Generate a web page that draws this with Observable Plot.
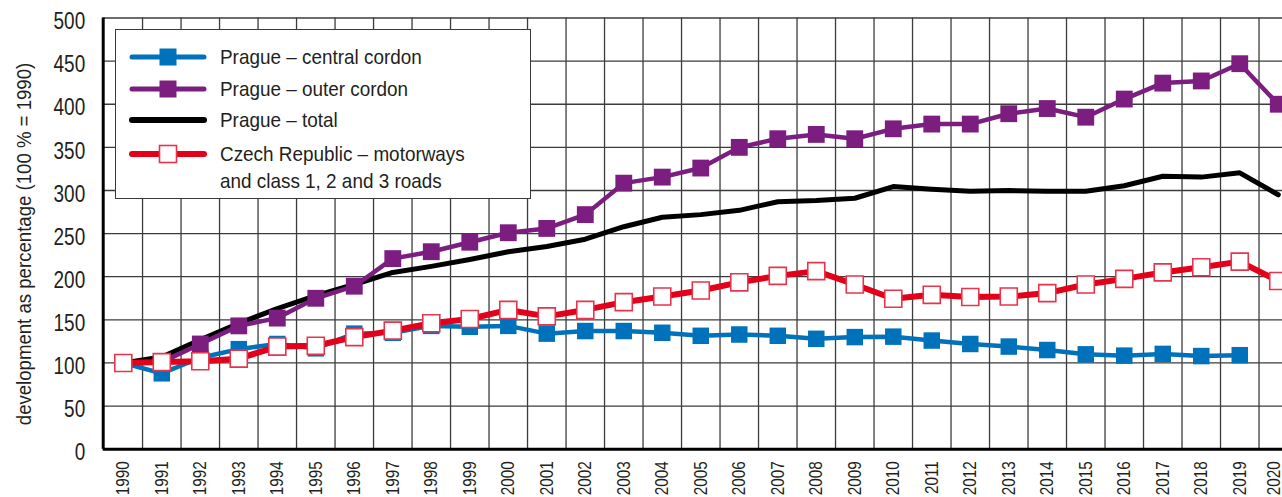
<!DOCTYPE html>
<html><head><meta charset="utf-8">
<script src="https://cdn.jsdelivr.net/npm/d3@7"></script>
<script src="https://cdn.jsdelivr.net/npm/@observablehq/plot@0.6"></script>
<style>
html,body{margin:0;padding:0;background:#fff;overflow:hidden;}
#wrap{position:relative;width:1282px;height:497px;}
.legend{position:absolute;left:115px;top:29px;width:416px;height:170px;border:1.5px solid #3a3a3a;background:#fff;box-sizing:border-box;font-family:"Liberation Sans","Arial",sans-serif;font-size:21px;color:#231f20;}
.row{position:absolute;left:0;height:26px;display:flex;align-items:center;white-space:nowrap;}
.row svg{margin-left:13px;margin-right:13px;flex:none;}
.row span{display:inline-block;transform:scaleX(0.9);transform-origin:left center;}
.ytitle{position:absolute;font-family:"Liberation Sans","Arial",sans-serif;font-size:20px;color:#231f20;white-space:nowrap;left:24px;top:244px;transform:translate(-50%,-50%) rotate(-90deg) scaleX(0.93);}
</style></head><body><div id="wrap"></div>
<script>
const years = [1990,1991,1992,1993,1994,1995,1996,1997,1998,1999,2000,2001,2002,2003,2004,2005,2006,2007,2008,2009,2010,2011,2012,2013,2014,2015,2016,2017,2018,2019,2020];
const central = [100,88,106,116,122,117,134,135,143,142,143,134,137,137,135,131.5,133,131.5,128,130,130.5,126,122,119,115,110,108.5,110.5,108,109];
const outer = [100,101,122,143,152,175,189,221,229,240,251,256,272,308.5,315.5,326,350,360,365,360,371.5,377,377,389,395,385,406,424.5,427,447,400];
const total = [100,107,127,146,163,178,191,205,212,220,229,235,243.5,258,269,272,277,287,288.5,291,304.5,301.5,299,300,299,299,305.5,316.5,315.5,320.5,295];
const czech = [100,101,102,105,119,120,130,137.5,146,151,161.5,154,161.5,170.5,177,184,193.5,201,206.5,191,174.5,179,176.5,177,181,191,197.5,205,211,217.5,195];
const yTicks = [0,50,100,150,200,250,300,350,400,450,500];
const gridX = [1990.5,1991.5,1992.5,1993.5,1994.5,1995.5,1996.5,1997.5,1998.5,1999.5,2000.5,2001.5,2002.5,2003.5,2004.5,2005.5,2006.5,2007.5,2008.5,2009.5,2010.5,2011.5,2012.5,2013.5,2014.5,2015.5,2016.5,2017.5,2018.5,2019.5];
const seriesNames = ["Prague – central cordon","Prague – outer cordon","Prague – total","Czech Republic – motorways","and class 1, 2 and 3 roads"];
const yTitle = "development as percentage (100 % = 1990)";

const C_BLUE="#0072bc", C_PURPLE="#7b1e80", C_RED="#e2001a", C_BLACK="#000";
const xDomain=[1989.478,2020.11];

const mk = (vals)=>vals.map((v,i)=>({year:years[i], v}));
const dCentral=mk(central), dOuter=mk(outer), dTotal=mk(total), dCzech=mk(czech);

const font='"Liberation Sans","Arial",sans-serif';
const chart = Plot.plot({
  width:1282, height:497,
  marginLeft:102.7, marginRight:0, marginTop:17.5, marginBottom:48.3,
  style:{fontFamily:font, color:"#231f20", background:"transparent", overflow:"visible"},
  x:{domain:xDomain},
  y:{domain:[0,500]},
  marks:[
    Plot.ruleX(gridX,{stroke:"#3c3c3c",strokeWidth:1.3}),
    Plot.ruleY(yTicks,{stroke:"#3c3c3c",strokeWidth:1.3}),
    Plot.axisY({ticks:yTicks, tickSize:0, tickPadding:18, fontSize:24, dy:3.5, label:null, tickFormat:d=>String(d)}),
    Plot.axisX({ticks:years, tickSize:0, tickPadding:12, tickRotate:-90, fontSize:18, label:null, tickFormat:d=>String(d)}),
    Plot.lineY(dTotal,{x:"year",y:"v",stroke:C_BLACK,strokeWidth:5}),
    Plot.lineY(dCentral,{x:"year",y:"v",stroke:C_BLUE,strokeWidth:4.5}),
    Plot.dot(dCentral,{x:"year",y:"v",symbol:"square",r:9.3,fill:C_BLUE}),
    Plot.lineY(dOuter,{x:"year",y:"v",stroke:C_PURPLE,strokeWidth:4.5}),
    Plot.dot(dOuter,{x:"year",y:"v",symbol:"square",r:9.5,fill:C_PURPLE}),
    Plot.lineY(dCzech,{x:"year",y:"v",stroke:C_RED,strokeWidth:6}),
    Plot.dot(dCzech,{x:"year",y:"v",symbol:"square",r:9.6,fill:"#fff",stroke:"#e5354c",strokeWidth:1.6}),
    Plot.ruleY([0],{stroke:"#000",strokeWidth:3}),
    Plot.ruleX([xDomain[0]],{y1:0,y2:500,stroke:"#000",strokeWidth:3})
  ]
});
// condense axis tick labels (the reference uses a condensed face)
d3.select(chart).selectAll('g[aria-label="y-axis tick label"] text').each(function(){
  const t=this.getAttribute("transform")||""; this.setAttribute("transform", t+" scale(0.79,1)");
});
const xl = d3.select(chart).selectAll('g[aria-label="x-axis tick label"] text');
const nX = xl.size();
xl.each(function(d,i){
  let t=this.getAttribute("transform")||"";
  if(i===nX-1) t="translate(-4,0) "+t; // keep the last label inside the picture
  this.setAttribute("transform", t+" scale(0.85,1)");
});
const wrap=document.getElementById("wrap");
wrap.appendChild(chart);

// y title
const t=document.createElement("div"); t.className="ytitle"; t.textContent=yTitle; wrap.appendChild(t);

// legend
const lg=document.createElement("div"); lg.className="legend"; wrap.appendChild(lg);
const rows=[
  {top:14,color:C_BLUE,w:5,marker:"fill",name:seriesNames[0]},
  {top:45.5,color:C_PURPLE,w:5,marker:"fill",name:seriesNames[1]},
  {top:76.5,color:C_BLACK,w:6,marker:null,name:seriesNames[2]},
  {top:111,color:C_RED,w:6,marker:"open",name:seriesNames[3]}
];
rows.forEach(r=>{
  const d=document.createElement("div"); d.className="row"; d.style.top=r.top+"px";
  const s=d3.create("svg").attr("width",78).attr("height",26);
  s.append("line").attr("x1",3).attr("x2",75).attr("y1",13).attr("y2",13).attr("stroke",r.color).attr("stroke-width",r.w).attr("stroke-linecap","round");
  if(r.marker==="fill") s.append("rect").attr("x",30.5).attr("y",4.5).attr("width",17).attr("height",17).attr("fill",r.color);
  if(r.marker==="open") s.append("rect").attr("x",30.5).attr("y",4.5).attr("width",17).attr("height",17).attr("fill","#fff").attr("stroke","#e5354c").attr("stroke-width",1.6);
  d.appendChild(s.node());
  const sp=document.createElement("span"); sp.textContent=r.name; d.appendChild(sp);
  lg.appendChild(d);
});
const l2=document.createElement("div"); l2.className="row"; l2.style.top="137.5px"; l2.style.left="104px";
const sp2=document.createElement("span"); sp2.textContent=seriesNames[4]; l2.appendChild(sp2); lg.appendChild(l2);
</script></body></html>
